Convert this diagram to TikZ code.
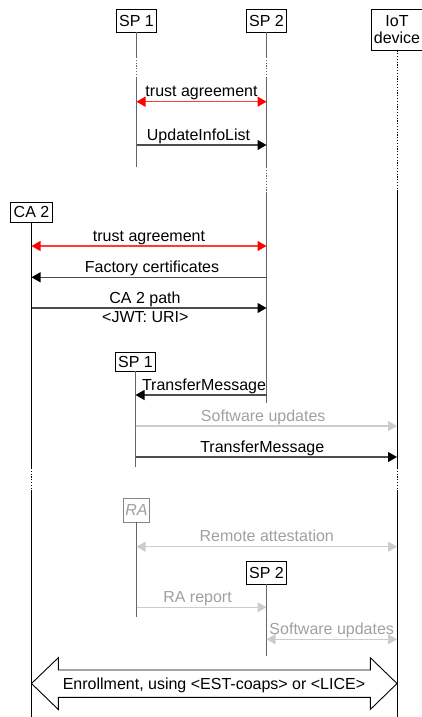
\documentclass[tikz,border=0pt]{standalone}
\usepackage{fontspec}
\setmainfont{Liberation Sans}
\usetikzlibrary{arrows.meta}
\definecolor{lifegray}{HTML}{666666}
\definecolor{lightline}{HTML}{CCCCCC}
\definecolor{lighttext}{HTML}{A0A0A0}
\definecolor{redline}{HTML}{FF3A3A}
\begin{document}
\begin{tikzpicture}[x=1pt,y=-1pt,
  every node/.style={font=\fontsize{16}{17}\selectfont},
  actor/.style={draw=black,line width=0.9pt,fill=white,inner xsep=3pt,inner ysep=0pt,minimum height=23pt},
  life/.style={lifegray,line width=1.4pt},
  lifeblk/.style={black,line width=1pt},
  gap/.style={dash pattern=on 1.2pt off 1.6pt},
  msg/.style={black!70,line width=1.1pt,-{Triangle[length=9pt,width=10pt,black]}},
  msgred/.style={redline,line width=1.3pt,{Triangle[length=9pt,width=10pt,red]}-{Triangle[length=9pt,width=10pt,red]}},
  msglight/.style={lightline,line width=1.1pt,-{Triangle[length=9pt,width=10pt,lightline]}},
  msglightboth/.style={lightline,line width=1.1pt,{Triangle[length=9pt,width=10pt,lightline]}-{Triangle[length=9pt,width=10pt,lightline]}},
  lbl/.style={anchor=base,yshift=5pt,inner sep=0pt,text=black},
  lbllight/.style={anchor=base,yshift=5pt,inner sep=0pt,text=lighttext},
]
\useasboundingbox (0,0) rectangle (422,717);

% actors
\node[actor] (sp1a) at (136.5,20.5) {SP 1};
\node[actor] (sp2a) at (266.5,20.5) {SP 2};
\node[actor,align=center,minimum width=51pt,minimum height=41pt,inner xsep=1pt,font=\fontsize{16}{17}\selectfont] (iot) at (397,29.5) {IoT\\device};
\node[actor,minimum height=20pt] (ca2) at (31.5,212) {CA 2};

% lifelines top
\draw[life] (sp1a.south) -- (sp1a |- 0,57);
\draw[life,gap] (sp1a |- 0,57) -- (sp1a |- 0,78);
\draw[life] (sp1a |- 0,78) -- (sp1a |- 0,167);

\draw[life] (sp2a.south) -- (sp2a |- 0,57);
\draw[life,gap] (sp2a |- 0,57) -- (sp2a |- 0,78);
\draw[life] (sp2a |- 0,78) -- (sp2a |- 0,167);
\draw[life,gap] (sp2a |- 0,167) -- (sp2a |- 0,192);
\draw[life] (sp2a |- 0,192) -- (sp2a |- 0,403);

\draw[lifeblk,gap] (iot.south) -- (iot |- 0,192);
\draw[lifeblk] (iot |- 0,192) -- (iot |- 0,468);
\draw[lifeblk,gap] (iot |- 0,468) -- (iot |- 0,490);
\draw[lifeblk] (iot |- 0,490) -- (iot |- 0,717);

\draw[lifeblk] (ca2.south) -- (ca2 |- 0,468);
\draw[lifeblk,gap] (ca2 |- 0,468) -- (ca2 |- 0,490);
\draw[lifeblk] (ca2 |- 0,490) -- (ca2 |- 0,717);

% messages part 1
\draw[msgred] (sp1a |- 0,101.7) -- node[lbl] {trust agreement} (sp2a |- 0,101.7);
\draw[msg] (sp1a |- 0,145) -- node[lbl,xshift=-3pt] {UpdateInfoList} (sp2a |- 0,145);

% part 2
\draw[msgred] (ca2 |- 0,246) -- node[lbl] {trust agreement} (sp2a |- 0,246);
\draw[msg] (sp2a |- 0,277.3) -- node[lbl,xshift=3pt] {Factory certificates} (ca2 |- 0,277.3);
\draw[msg] (ca2 |- 0,308) -- node[lbl,xshift=-4pt] (ca2path) {CA 2 path} (sp2a |- 0,308);
\node[anchor=base,inner sep=0pt] (jwt) at (145.3,322.7) {<JWT: URI>};

% part 3
\node[actor,minimum height=19pt] (sp1b) at (135.5,361.5) {SP 1};
\draw[life] (sp1b.south) -- (sp1b |- 0,467);
\draw[msg] (sp2a |- 0,395) -- node[pos=0,anchor=base east,yshift=5pt,inner sep=0pt,text=black] {TransferMessage} (sp1b |- 0,395);
\draw[msglight] (sp1b |- 0,426) -- node[lbllight,xshift=-3pt] {Software updates} (iot |- 0,426);
\draw[msg] (sp1b |- 0,457) -- node[lbl,xshift=-4pt] {TransferMessage} (iot |- 0,457);

% part 4
\node[actor,draw=lifegray!80,text=lighttext,minimum height=24pt,inner xsep=2pt,font=\fontsize{16}{17}\selectfont\itshape] (ra) at (136.5,510) {RA};
\draw[life] (ra.south) -- (ra |- 0,617);
\draw[msglightboth] (ra |- 0,546.7) -- node[lbllight] {Remote attestation} (iot |- 0,546.7);
\node[actor,minimum height=23pt] (sp2b) at (266.5,572.5) {SP 2};
\draw[life] (sp2b.south) -- (sp2b |- 0,656);
\draw[msglight] (ra |- 0,607.3) -- node[lbllight,xshift=-4pt] {RA report} (sp2b |- 0,607.3);
\draw[msglightboth] (sp2b |- 0,639.3) -- node[lbllight] {Software updates} (iot |- 0,639.3);

% enrollment double arrow
\coordinate (el) at (ca2 |- 0,683.5);
\coordinate (er) at (iot |- 0,683.5);
\draw[black,line width=0.9pt,fill=white] (el) -- (58.3,657.7) -- (58.3,670) -- (370.3,670) -- (370.3,657.7) -- (er) -- (370.3,709.5) -- (370.3,697.3) -- (58.3,697.3) -- (58.3,709.5) -- cycle;
\node[anchor=base,inner sep=0pt] (enroll) at (214,689.5) {Enrollment, using <EST-coaps> or <LICE>};
\end{tikzpicture}
\end{document}
